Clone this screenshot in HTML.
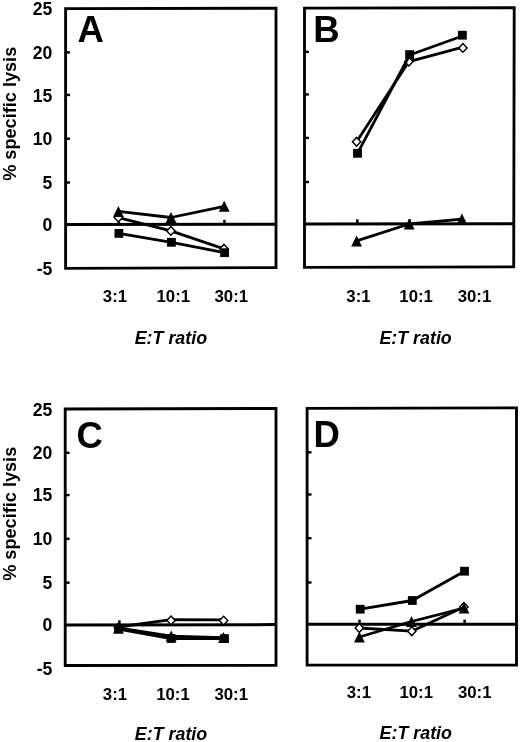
<!DOCTYPE html>
<html lang="en">
<head>
<meta charset="utf-8">
<title>Specific lysis vs E:T ratio</title>
<style>
html,body{margin:0;padding:0;background:#fff;}
body{width:520px;height:742px;overflow:hidden;}
svg{display:block;}
text{font-family:"Liberation Sans",Arial,Helvetica,sans-serif;font-weight:bold;fill:#000;}
.t{font-size:16.8px;}
.y{font-size:17.6px;}
.yt{font-size:18.15px;}
.it{font-size:17.85px;font-style:italic;}
.L{font-size:36.5px;}
</style>
</head>
<body>
<svg width="520" height="742" viewBox="0 0 520 742">
<rect x="0" y="0" width="520" height="742" fill="#fff"/>

<g id="panel-A">
<polygon points="65.6,8.6 276,8.2 276,267.6 65.6,268.4" fill="none" stroke="#000" stroke-width="2.85" stroke-linejoin="miter"/>
<line x1="65.6" y1="224.5" x2="276" y2="224.2" stroke="#000" stroke-width="3"/>
<line x1="65.6" y1="182.5" x2="70" y2="182.5" stroke="#000" stroke-width="2.4"/>
<line x1="65.6" y1="138.7" x2="70" y2="138.7" stroke="#000" stroke-width="2.4"/>
<line x1="65.6" y1="94.95" x2="70" y2="94.95" stroke="#000" stroke-width="2.4"/>
<line x1="65.6" y1="52.4" x2="70" y2="52.4" stroke="#000" stroke-width="2.4"/>
<line x1="118.8" y1="224.5" x2="118.8" y2="219.8" stroke="#000" stroke-width="2.5"/>
<line x1="171.3" y1="224.5" x2="171.3" y2="219.8" stroke="#000" stroke-width="2.5"/>
<line x1="224.4" y1="224.5" x2="224.4" y2="219.8" stroke="#000" stroke-width="2.5"/>
<text class="y" x="52.3" y="14.7" text-anchor="end">25</text>
<text class="y" x="52.3" y="58.9" text-anchor="end">20</text>
<text class="y" x="52.3" y="102" text-anchor="end">15</text>
<text class="y" x="52.3" y="144.6" text-anchor="end">10</text>
<text class="y" x="52.3" y="188.8" text-anchor="end">5</text>
<text class="y" x="52.3" y="231" text-anchor="end">0</text>
<text class="y" x="52.3" y="274.8" text-anchor="end">-5</text>
<text class="yt" transform="translate(16.2,113.8) rotate(-90)" text-anchor="middle">% specific lysis</text>
<polyline points="118.4,217.6 170.9,230.9 224,248.8" fill="none" stroke="#000" stroke-width="2.8" stroke-linejoin="round"/>
<polygon points="118.4,213.2 122.55,217.6 118.4,222 114.25,217.6" fill="#fff" stroke="#000" stroke-width="1.45"/>
<polygon points="170.9,226.5 175.05,230.9 170.9,235.3 166.75,230.9" fill="#fff" stroke="#000" stroke-width="1.45"/>
<polygon points="224,244.4 228.15,248.8 224,253.2 219.85,248.8" fill="#fff" stroke="#000" stroke-width="1.45"/>
<polyline points="118.4,211.4 171,217.5 224.2,206.3" fill="none" stroke="#000" stroke-width="2.8" stroke-linejoin="round"/>
<polygon points="118.4,205.9 113,216.9 123.8,216.9" fill="#000"/>
<polygon points="171,212 165.6,223 176.4,223" fill="#000"/>
<polygon points="224.2,200.8 218.8,211.8 229.6,211.8" fill="#000"/>
<polyline points="118.9,233.4 171.4,242.3 224.6,252.7" fill="none" stroke="#000" stroke-width="2.8" stroke-linejoin="round"/>
<rect x="114.5" y="229" width="8.8" height="8.8" fill="#000"/>
<rect x="167" y="237.9" width="8.8" height="8.8" fill="#000"/>
<rect x="220.2" y="248.3" width="8.8" height="8.8" fill="#000"/>
<text class="L" x="77.5" y="42">A</text>
<text class="t" x="115" y="302.2" text-anchor="middle">3:1</text>
<text class="t" x="173.3" y="302.2" text-anchor="middle">10:1</text>
<text class="t" x="231.3" y="302.2" text-anchor="middle">30:1</text>
<text class="it" x="170.9" y="343.5" text-anchor="middle">E:T ratio</text>
</g>
<g id="panel-B">
<polygon points="304.5,8.1 514.2,7.7 513.7,266.9 304.5,267.3" fill="none" stroke="#000" stroke-width="2.85" stroke-linejoin="miter"/>
<line x1="304.5" y1="224" x2="514" y2="223.65" stroke="#000" stroke-width="3"/>
<line x1="304.5" y1="182" x2="308.9" y2="182" stroke="#000" stroke-width="2.4"/>
<line x1="304.5" y1="137.9" x2="308.9" y2="137.9" stroke="#000" stroke-width="2.4"/>
<line x1="304.5" y1="94.45" x2="308.9" y2="94.45" stroke="#000" stroke-width="2.4"/>
<line x1="304.5" y1="51.85" x2="308.9" y2="51.85" stroke="#000" stroke-width="2.4"/>
<line x1="357.3" y1="224" x2="357.3" y2="219.3" stroke="#000" stroke-width="2.5"/>
<line x1="409.8" y1="224" x2="409.8" y2="219.3" stroke="#000" stroke-width="2.5"/>
<line x1="462.7" y1="224" x2="462.7" y2="219.3" stroke="#000" stroke-width="2.5"/>
<polyline points="356.6,141.8 408.9,61.6 462.9,47.1" fill="none" stroke="#000" stroke-width="2.8" stroke-linejoin="round"/>
<polygon points="356.6,137.4 360.75,141.8 356.6,146.2 352.45,141.8" fill="#fff" stroke="#000" stroke-width="1.45"/>
<polygon points="408.9,57.2 413.05,61.6 408.9,66 404.75,61.6" fill="#fff" stroke="#000" stroke-width="1.45"/>
<polygon points="462.9,43.5 467.05,47.9 462.9,52.3 458.75,47.9" fill="#fff" stroke="#000" stroke-width="1.45"/>
<polyline points="356.6,240.9 409.2,224 461.9,219.1" fill="none" stroke="#000" stroke-width="2.8" stroke-linejoin="round"/>
<polygon points="356.6,235.4 351.2,246.4 362,246.4" fill="#000"/>
<polygon points="409.2,218.5 403.8,229.5 414.6,229.5" fill="#000"/>
<polygon points="461.9,213.6 456.5,224.6 467.3,224.6" fill="#000"/>
<polyline points="357.5,153.3 409.6,55 462.4,36" fill="none" stroke="#000" stroke-width="2.8" stroke-linejoin="round"/>
<rect x="353.1" y="148.9" width="8.8" height="8.8" fill="#000"/>
<rect x="405.2" y="50.2" width="8.8" height="8.8" fill="#000"/>
<rect x="458" y="30.8" width="8.8" height="8.8" fill="#000"/>
<text class="L" x="313.2" y="41.8">B</text>
<text class="t" x="358.5" y="302.2" text-anchor="middle">3:1</text>
<text class="t" x="416.1" y="302.2" text-anchor="middle">10:1</text>
<text class="t" x="474.5" y="302.2" text-anchor="middle">30:1</text>
<text class="it" x="415.6" y="343.5" text-anchor="middle">E:T ratio</text>
</g>
<g id="panel-C">
<polygon points="65.2,409 276,408.4 276,665.4 65.2,665.5" fill="none" stroke="#000" stroke-width="2.85" stroke-linejoin="miter"/>
<line x1="65.2" y1="625" x2="276" y2="624.6" stroke="#000" stroke-width="3"/>
<line x1="65.2" y1="582.7" x2="69.6" y2="582.7" stroke="#000" stroke-width="2.4"/>
<line x1="65.2" y1="538.85" x2="69.6" y2="538.85" stroke="#000" stroke-width="2.4"/>
<line x1="65.2" y1="495.05" x2="69.6" y2="495.05" stroke="#000" stroke-width="2.4"/>
<line x1="65.2" y1="452.8" x2="69.6" y2="452.8" stroke="#000" stroke-width="2.4"/>
<line x1="119.4" y1="625" x2="119.4" y2="620.3" stroke="#000" stroke-width="2.5"/>
<line x1="171.5" y1="625" x2="171.5" y2="620.3" stroke="#000" stroke-width="2.5"/>
<line x1="224.3" y1="625" x2="224.3" y2="620.3" stroke="#000" stroke-width="2.5"/>
<text class="y" x="52.3" y="415.7" text-anchor="end">25</text>
<text class="y" x="52.3" y="458.9" text-anchor="end">20</text>
<text class="y" x="52.3" y="501.4" text-anchor="end">15</text>
<text class="y" x="52.3" y="545.1" text-anchor="end">10</text>
<text class="y" x="52.3" y="589.2" text-anchor="end">5</text>
<text class="y" x="52.3" y="630.7" text-anchor="end">0</text>
<text class="y" x="52.3" y="674.7" text-anchor="end">-5</text>
<text class="yt" transform="translate(16.2,513.8) rotate(-90)" text-anchor="middle">% specific lysis</text>
<polyline points="118.4,627 171,619.7 223.6,619.9" fill="none" stroke="#000" stroke-width="2.8" stroke-linejoin="round"/>
<polygon points="118.4,623 122.55,627.4 118.4,631.8 114.25,627.4" fill="#fff" stroke="#000" stroke-width="1.45"/>
<polygon points="171,616 175.15,620.4 171,624.8 166.85,620.4" fill="#fff" stroke="#000" stroke-width="1.45"/>
<polygon points="223.6,616.2 227.75,620.6 223.6,625 219.45,620.6" fill="#fff" stroke="#000" stroke-width="1.45"/>
<polyline points="118.4,628 171.2,636.1 223.5,637.6" fill="none" stroke="#000" stroke-width="2.8" stroke-linejoin="round"/>
<polygon points="118.4,622.5 113,633.5 123.8,633.5" fill="#000"/>
<polygon points="171.2,630.6 165.8,641.6 176.6,641.6" fill="#000"/>
<polygon points="223.5,632.1 218.1,643.1 228.9,643.1" fill="#000"/>
<polyline points="118.5,629.1 171.2,638.5 224.5,638.6" fill="none" stroke="#000" stroke-width="2.8" stroke-linejoin="round"/>
<rect x="114.1" y="624.7" width="8.8" height="8.8" fill="#000"/>
<rect x="166.8" y="634.1" width="8.8" height="8.8" fill="#000"/>
<rect x="220.1" y="634.2" width="8.8" height="8.8" fill="#000"/>
<text class="L" x="76.4" y="447.8">C</text>
<text class="t" x="115" y="699.7" text-anchor="middle">3:1</text>
<text class="t" x="173" y="699.7" text-anchor="middle">10:1</text>
<text class="t" x="231.2" y="699.7" text-anchor="middle">30:1</text>
<text class="it" x="171" y="740.2" text-anchor="middle">E:T ratio</text>
</g>
<g id="panel-D">
<polygon points="307.1,408.3 516.5,407.9 516.5,665.1 307.1,665.1" fill="none" stroke="#000" stroke-width="2.85" stroke-linejoin="miter"/>
<line x1="307.1" y1="624.3" x2="516.5" y2="624.35" stroke="#000" stroke-width="3"/>
<line x1="307.1" y1="582.5" x2="311.5" y2="582.5" stroke="#000" stroke-width="2.4"/>
<line x1="307.1" y1="538.2" x2="311.5" y2="538.2" stroke="#000" stroke-width="2.4"/>
<line x1="307.1" y1="494.5" x2="311.5" y2="494.5" stroke="#000" stroke-width="2.4"/>
<line x1="307.1" y1="452.3" x2="311.5" y2="452.3" stroke="#000" stroke-width="2.4"/>
<line x1="359.5" y1="624.3" x2="359.5" y2="619.6" stroke="#000" stroke-width="2.5"/>
<line x1="412" y1="624.3" x2="412" y2="619.6" stroke="#000" stroke-width="2.5"/>
<line x1="464.6" y1="624.3" x2="464.6" y2="619.6" stroke="#000" stroke-width="2.5"/>
<polyline points="359.3,628 411.8,631.2 463.9,606.9" fill="none" stroke="#000" stroke-width="2.8" stroke-linejoin="round"/>
<polygon points="359.3,623.6 363.45,628 359.3,632.4 355.15,628" fill="#fff" stroke="#000" stroke-width="1.45"/>
<polygon points="411.8,626.8 415.95,631.2 411.8,635.6 407.65,631.2" fill="#fff" stroke="#000" stroke-width="1.45"/>
<polygon points="463.9,602.5 468.05,606.9 463.9,611.3 459.75,606.9" fill="#fff" stroke="#000" stroke-width="1.45"/>
<polyline points="359.4,637 411.5,621.5 464,608.1" fill="none" stroke="#000" stroke-width="2.8" stroke-linejoin="round"/>
<polygon points="359.4,631.5 354,642.5 364.8,642.5" fill="#000"/>
<polygon points="411.5,616 406.1,627 416.9,627" fill="#000"/>
<polygon points="464,602.6 458.6,613.6 469.4,613.6" fill="#000"/>
<polyline points="360.2,609.2 412.3,600.5 464.5,571.2" fill="none" stroke="#000" stroke-width="2.8" stroke-linejoin="round"/>
<rect x="355.8" y="604.8" width="8.8" height="8.8" fill="#000"/>
<rect x="407.9" y="596.1" width="8.8" height="8.8" fill="#000"/>
<rect x="460.1" y="566.8" width="8.8" height="8.8" fill="#000"/>
<text class="L" x="313.5" y="447.1">D</text>
<text class="t" x="358.9" y="698.4" text-anchor="middle">3:1</text>
<text class="t" x="416.2" y="698.4" text-anchor="middle">10:1</text>
<text class="t" x="474.7" y="698.4" text-anchor="middle">30:1</text>
<text class="it" x="415.8" y="739.1" text-anchor="middle">E:T ratio</text>
</g>
</svg>
</body>
</html>
